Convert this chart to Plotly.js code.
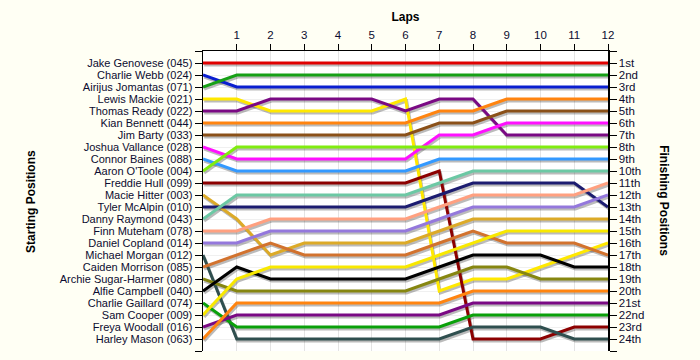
<!DOCTYPE html>
<html>
<head>
<meta charset="utf-8">
<script src="https://cdn.plot.ly/plotly-3.0.1.min.js"></script>
<style>html,body{margin:0;padding:0;background:#fffff4;}#chart{width:700px;height:360px;}</style>
</head>
<body>
<div id="chart"></div>
<script>
const laps = [0,1,2,3,4,5,6,7,8,9,10,11,12];
const drivers = ["Jake Genovese (045)","Charlie Webb (024)","Airijus Jomantas (071)","Lewis Mackie (021)","Thomas Ready (022)","Kian Bennett (044)","Jim Barty (033)","Joshua Vallance (028)","Connor Baines (088)","Aaron O'Toole (004)","Freddie Hull (099)","Macie Hitter (003)","Tyler McAlpin (010)","Danny Raymond (043)","Finn Muteham (078)","Daniel Copland (014)","Michael Morgan (012)","Caiden Morrison (085)","Archie Sugar-Harmer (080)","Alfie Campbell (040)","Charlie Gaillard (074)","Sam Cooper (009)","Freya Woodall (016)","Harley Mason (063)"];
const finishLabels = ["1st","2nd","3rd","4th","5th","6th","7th","8th","9th","10th","11th","12th","13th","14th","15th","16th","17th","18th","19th","20th","21st","22nd","23rd","24th"];
const positions = [
  [1,1,1,1,1,1,1,1,1,1,1,1,1],
  [2,3,3,3,3,3,3,3,3,3,3,3,3],
  [3,2,2,2,2,2,2,2,2,2,2,2,2],
  [4,4,5,5,5,5,4,20,19,19,18,17,16],
  [5,5,4,4,4,4,5,4,4,7,7,7,7],
  [6,6,6,6,6,6,6,5,5,4,4,4,4],
  [7,7,7,7,7,7,7,6,6,5,5,5,5],
  [8,9,9,9,9,9,9,7,7,6,6,6,6],
  [9,10,10,10,10,10,10,9,9,9,9,9,9],
  [10,8,8,8,8,8,8,8,8,8,8,8,8],
  [11,11,11,11,11,11,11,10,24,24,24,23,23],
  [12,14,17,16,16,16,16,15,14,14,14,14,14],
  [13,13,13,13,13,13,13,12,11,11,11,11,13],
  [14,12,12,12,12,12,12,11,10,10,10,10,10],
  [15,15,14,14,14,14,14,13,12,12,12,12,11],
  [16,16,15,15,15,15,15,14,13,13,13,13,12],
  [17,24,24,24,24,24,24,24,23,23,23,24,24],
  [18,17,16,17,17,17,17,16,15,16,16,16,17],
  [19,20,20,20,20,20,20,19,18,18,19,19,19],
  [20,18,19,19,19,19,19,18,17,17,17,18,18],
  [21,23,23,23,23,23,23,23,22,22,22,22,22],
  [22,19,18,18,18,18,18,17,16,15,15,15,15],
  [23,22,22,22,22,22,22,22,21,21,21,21,21],
  [24,21,21,21,21,21,21,21,20,20,20,20,20]
];
const colors = ["#e00000","#0a1ed0","#16a016","#ffe800","#7a0a84","#ff8410","#8a5018","#ff10ff","#3399ff","#80ec10","#8c0000","#dcaa28","#1c1c70","#6cc8a4","#ffa080","#9478dc","#2f4f4f","#d2722e","#868610","#000000","#0aa00a","#f8e800","#7a0a84","#ff8410"];

const traces = [];
// shadows
positions.forEach((p, i) => {
  traces.push({x: laps.map(v => v + 0.035), y: p.map(v => v + 0.17), mode: 'lines', type: 'scatter',
    line: {color: 'rgba(60,60,60,0.35)', width: 3}, hoverinfo: 'skip', showlegend: false});
});
positions.forEach((p, i) => {
  traces.push({x: laps, y: p, mode: 'lines', type: 'scatter', name: drivers[i],
    line: {color: colors[i], width: 3}, showlegend: false});
});
traces.push({x: [0], y: [1], yaxis: 'y2', mode: 'markers', marker: {opacity: 0}, showlegend: false, hoverinfo: 'skip'});

const yvals = drivers.map((d, i) => i + 1);
const font = {family: 'Liberation Sans, Arial, sans-serif', size: 11, color: '#0c0c30'};
const layout = {
  width: 700, height: 360,
  paper_bgcolor: '#fffff4', plot_bgcolor: '#ffffff',
  margin: {l: 203, r: 92, t: 51, b: 9},
  showlegend: false, hovermode: false,
  font: font,
  xaxis: {side: 'top', range: [0, 12], tickvals: laps.slice(1), ticktext: laps.slice(1).map(String),
    ticks: 'outside', ticklen: 6, tickcolor: '#000', showline: true, linecolor: '#000', linewidth: 1.5,
    showgrid: true, gridcolor: '#e4e4e4', zeroline: false, tickfont: {family: 'Liberation Sans, Arial, sans-serif', size: 11.5, color: '#0c0c30'},
    title: {text: '<b>Laps</b>', font: {family: 'Liberation Sans, Arial, sans-serif', size: 12, color: '#000'}, standoff: 4}},
  yaxis: {range: [25, 0], tickvals: [0].concat(yvals, [25]), ticktext: [''].concat(drivers, ['']),
    ticks: 'outside', ticklen: 7, tickcolor: '#000', showline: true, linecolor: '#000', linewidth: 1.5,
    showgrid: true, gridcolor: '#f0f0f0', zeroline: false, tickfont: font},
  yaxis2: {overlaying: 'y', side: 'right', range: [25, 0], tickvals: [0].concat(yvals, [25]), ticktext: [''].concat(finishLabels, ['']),
    ticks: 'outside', ticklen: 7, tickcolor: '#000', showline: true, linecolor: '#000', linewidth: 1.5,
    showgrid: false, zeroline: false, tickfont: {family: 'Liberation Sans, Arial, sans-serif', size: 11.5, color: '#0c0c30'}},
  annotations: [
    {text: '<b>Starting Positions</b>', textangle: -90, xref: 'paper', yref: 'paper', x: -0.447, y: 0.5,
      showarrow: false, font: {family: 'Liberation Sans, Arial, sans-serif', size: 12, color: '#000'}},
    {text: '<b>Finishing Positions</b>', textangle: 90, xref: 'paper', yref: 'paper', x: 1.16, y: 0.5,
      showarrow: false, font: {family: 'Liberation Sans, Arial, sans-serif', size: 12, color: '#000'}}
  ]
};
Plotly.newPlot('chart', traces, layout, {displayModeBar: false, staticPlot: true});
</script>
</body>
</html>
